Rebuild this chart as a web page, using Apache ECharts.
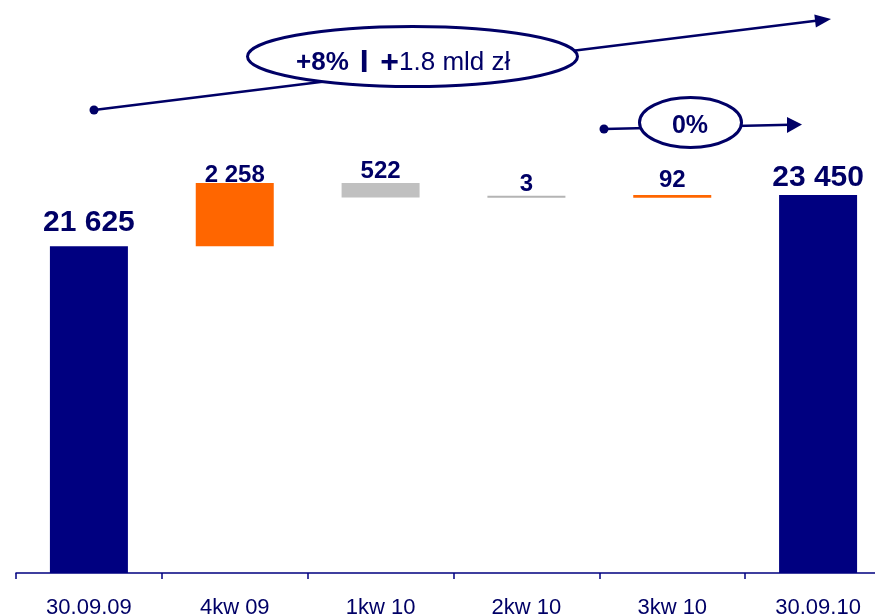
<!DOCTYPE html>
<html>
<head>
<meta charset="utf-8">
<style>html,body{margin:0;padding:0;background:#fff;}#c{width:875px;height:616px;}</style>
<script src="https://cdn.jsdelivr.net/npm/echarts@6/dist/echarts.min.js"></script>
</head>
<body>
<div id="c"></div>
<script>
// ---- data ----
const categories = ['30.09.09', '4kw 09', '1kw 10', '2kw 10', '3kw 10', '30.09.10'];
const startValue = 21625;
const changes = [2258, -522, -3, 92];
const endValue = 23450;
const changeColors = ['#FF6600', '#C0C0C0', '#B4B4B4', '#FF6600'];
const annotationBig = ['+8%', 'I', '+', '1.8 mld zł'];
const annotationSmall = '0%';

// ---- build waterfall ----
const NAVY = '#000080';
const TXT = '#000066';
const FONT = '"Liberation Sans", Arial, sans-serif';
const fmt = v => String(Math.round(v)).replace(/\B(?=(\d{3})+(?!\d))/g, ' ');

const baseData = ['-'];
const deltaData = [{ value: startValue, itemStyle: { color: NAVY } }];
let running = startValue;
changes.forEach((c, i) => {
  baseData.push(c >= 0 ? running : running + c);
  deltaData.push({ value: Math.abs(c), itemStyle: { color: changeColors[i] } });
  running += c;
});
baseData.push('-');
deltaData.push({ value: endValue, itemStyle: { color: NAVY } });

const labelLift = [9, -4, 0, -1, 3, 2];
deltaData.forEach((d, i) => {
  const big = (i === 0 || i === deltaData.length - 1);
  d.label = { distance: labelLift[i], fontSize: big ? 30 : 24 };
});

const chart = echarts.init(document.getElementById('c'), null, { renderer: 'canvas' });
chart.setOption({
  animation: false,
  backgroundColor: '#fff',
  grid: { left: 16, width: 875, top: 11, bottom: 43, containLabel: false, outerBoundsMode: 'none' },
  xAxis: {
    type: 'category',
    data: categories,
    axisLine: { lineStyle: { color: NAVY, width: 1.5 } },
    axisTick: { show: true, length: 6, lineStyle: { color: NAVY, width: 1.5 } },
    axisLabel: { color: TXT, fontSize: 22, fontFamily: FONT, margin: 24 }
  },
  yAxis: { type: 'value', min: 10000, max: 30000, show: false, splitLine: { show: false } },
  series: [
    {
      type: 'bar', stack: 'w', data: baseData, barWidth: 78,
      itemStyle: { color: 'transparent' }, silent: true
    },
    {
      type: 'bar', stack: 'w', data: deltaData, barWidth: 78, barMinHeight: 2,
      label: {
        show: true, position: 'top', color: TXT, fontWeight: 'bold', fontFamily: FONT,
        formatter: p => fmt(p.value)
      }
    }
  ],
  graphic: [
    // big arrow
    { type: 'line', shape: { x1: 94, y1: 110, x2: 818, y2: 20.6 }, style: { stroke: TXT, lineWidth: 2.5 } },
    { type: 'polygon', shape: { points: [[831, 19], [815.9, 27.4], [814.3, 14.5]] }, style: { fill: TXT } },
    { type: 'circle', shape: { cx: 94, cy: 110, r: 4.5 }, style: { fill: TXT } },
    { type: 'ellipse', shape: { cx: 412.5, cy: 56.5, rx: 165, ry: 30 }, style: { fill: '#fff', stroke: TXT, lineWidth: 3 } },
    {
      type: 'text', x: 296, y: 79,
      style: {
        text: '{a|' + annotationBig[0] + '}{b|' + annotationBig[1] + '}{c|' + annotationBig[2] + '}{d|' + annotationBig[3] + '}',
        align: 'left', verticalAlign: 'bottom',
        rich: {
          a: { fontSize: 26, fontWeight: 'bold', fontFamily: FONT, fill: TXT },
          b: { fontSize: 32, fontWeight: 'bold', fontFamily: FONT, fill: TXT, padding: [0, 0, 0, 11] },
          c: { fontSize: 32, fontWeight: 'bold', fontFamily: FONT, fill: TXT, padding: [0, 0, 0, 11.7] },
          d: { fontSize: 26, fontFamily: FONT, fill: TXT }
        }
      }
    },
    // small arrow
    { type: 'line', shape: { x1: 604, y1: 129, x2: 790, y2: 124.7 }, style: { stroke: TXT, lineWidth: 2.5 } },
    { type: 'polygon', shape: { points: [[802, 124.5], [787, 117], [787, 133]] }, style: { fill: TXT } },
    { type: 'circle', shape: { cx: 604, cy: 129, r: 4.5 }, style: { fill: TXT } },
    { type: 'ellipse', shape: { cx: 690.5, cy: 122.5, rx: 51, ry: 25 }, style: { fill: '#fff', stroke: TXT, lineWidth: 3 } },
    {
      type: 'text', x: 690, y: 126,
      style: { text: annotationSmall, align: 'center', verticalAlign: 'middle', fontSize: 25, fontWeight: 'bold', fontFamily: FONT, fill: TXT }
    }
  ]
});
</script>
</body>
</html>
